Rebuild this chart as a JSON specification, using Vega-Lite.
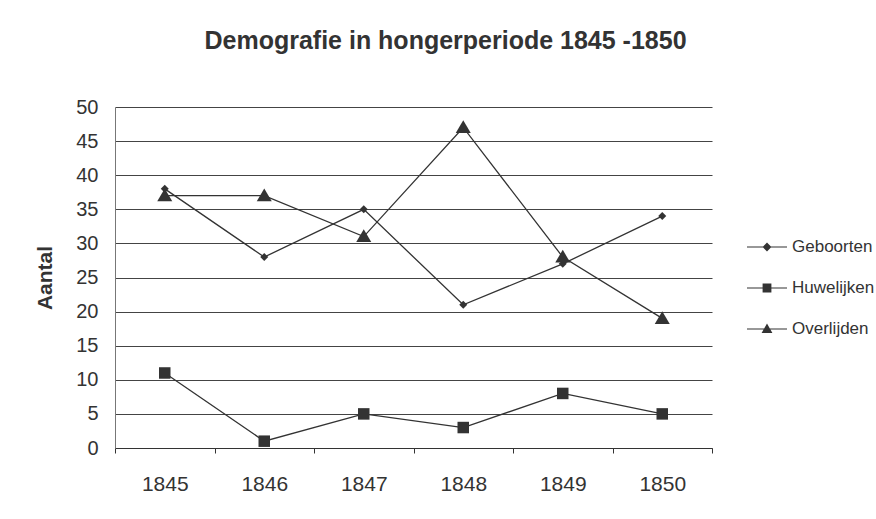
{
  "$schema": "https://vega.github.io/schema/vega-lite/v6.json",
  "autosize": {"type": "none"},
  "width": 597,
  "height": 341,
  "padding": {"left": 115, "top": 107, "right": 164, "bottom": 71},
  "background": "white",
  "config": {
    "font": "Liberation Sans",
    "view": {"stroke": null}
  },
  "title": {
    "text": "Demografie in hongerperiode 1845 -1850",
    "fontSize": 25,
    "fontWeight": "bold",
    "color": "#333333",
    "anchor": "middle",
    "dx": 32,
    "offset": 43
  },
  "data": {
    "values": [
      {"jaar": "1845", "reeks": "Geboorten", "aantal": 38},
      {"jaar": "1846", "reeks": "Geboorten", "aantal": 28},
      {"jaar": "1847", "reeks": "Geboorten", "aantal": 35},
      {"jaar": "1848", "reeks": "Geboorten", "aantal": 21},
      {"jaar": "1849", "reeks": "Geboorten", "aantal": 27},
      {"jaar": "1850", "reeks": "Geboorten", "aantal": 34},
      {"jaar": "1845", "reeks": "Huwelijken", "aantal": 11},
      {"jaar": "1846", "reeks": "Huwelijken", "aantal": 1},
      {"jaar": "1847", "reeks": "Huwelijken", "aantal": 5},
      {"jaar": "1848", "reeks": "Huwelijken", "aantal": 3},
      {"jaar": "1849", "reeks": "Huwelijken", "aantal": 8},
      {"jaar": "1850", "reeks": "Huwelijken", "aantal": 5},
      {"jaar": "1845", "reeks": "Overlijden", "aantal": 37},
      {"jaar": "1846", "reeks": "Overlijden", "aantal": 37},
      {"jaar": "1847", "reeks": "Overlijden", "aantal": 31},
      {"jaar": "1848", "reeks": "Overlijden", "aantal": 47},
      {"jaar": "1849", "reeks": "Overlijden", "aantal": 28},
      {"jaar": "1850", "reeks": "Overlijden", "aantal": 19}
    ]
  },
  "encoding": {
    "x": {
      "field": "jaar",
      "type": "ordinal",
      "scale": {"type": "band", "paddingInner": 0, "paddingOuter": 0},
      "axis": {
        "title": null,
        "labelAngle": 0,
        "labelFontSize": 21,
        "labelColor": "#333333",
        "labelPadding": 20,
        "tickBand": "extent",
        "tickSize": 5,
        "tickColor": "#333333",
        "domainColor": "#333333",
        "grid": false
      }
    },
    "y": {
      "field": "aantal",
      "type": "quantitative",
      "scale": {"domain": [0, 50], "nice": false},
      "axis": {
        "title": "Aantal",
        "titleFontSize": 21,
        "titleFontWeight": "bold",
        "titleColor": "#333333",
        "titlePadding": 20,
        "values": [0, 5, 10, 15, 20, 25, 30, 35, 40, 45, 50],
        "labelFontSize": 20,
        "labelColor": "#333333",
        "labelPadding": 17,
        "ticks": false,
        "domain": true,
        "domainColor": "#777777",
        "gridColor": "#444444",
        "gridOpacity": 1,
        "gridWidth": 1
      }
    }
  },
  "layer": [
    {
      "mark": {"type": "line", "color": "#333333", "strokeWidth": 1.3},
      "encoding": {"detail": {"field": "reeks"}}
    },
    {
      "mark": {"type": "point", "filled": true, "color": "#333333", "opacity": 1, "size": 100},
      "encoding": {
        "shape": {
          "field": "reeks",
          "type": "nominal",
          "scale": {
            "domain": ["Geboorten", "Huwelijken", "Overlijden"],
            "range": ["M0,-0.8L0.8,0L0,0.8L-0.8,0Z", "M-1.15,-1.15L1.15,-1.15L1.15,1.15L-1.15,1.15Z", "M0,-1.45L1.5,1.1L-1.5,1.1Z"]
          },
          "legend": null
        }
      }
    },
    {
      "transform": [{"filter": "datum.aantal < -100"}],
      "mark": {"type": "point", "filled": true, "color": "#333333", "size": 1600},
      "encoding": {
        "shape": {
          "field": "reeks",
          "type": "nominal",
          "scale": {
            "domain": ["Geboorten", "Huwelijken", "Overlijden"],
            "range": [
              "M-1,-0.03L1,-0.03L1,0.03L-1,0.03ZM0,-0.22L0.22,0L0,0.22L-0.22,0Z",
              "M-1,-0.03L1,-0.03L1,0.03L-1,0.03ZM-0.22,-0.22L0.22,-0.22L0.22,0.22L-0.22,0.22Z",
              "M-1,-0.03L1,-0.03L1,0.03L-1,0.03ZM0,-0.27L0.27,0.2L-0.27,0.2Z"
            ]
          },
          "legend": {
            "title": null,
            "orient": "none",
            "legendX": 631,
            "legendY": 119,
            "labelFontSize": 17,
            "labelColor": "#333333",
            "labelOffset": 4,
            "rowPadding": 12,
            "symbolSize": 1600,
            "symbolFillColor": "#333333",
            "symbolOpacity": 1
          }
        }
      }
    }
  ],
  "resolve": {"scale": {"shape": "independent"}, "legend": {"shape": "independent"}}
}
